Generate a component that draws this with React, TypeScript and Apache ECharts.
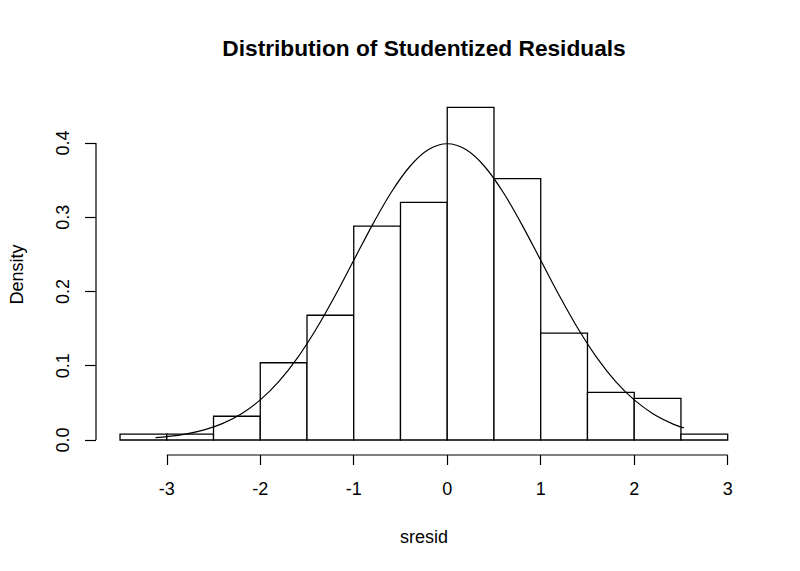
import React, { useEffect, useRef } from "react";
import * as echarts from "echarts";

// Histogram bins (break edges) and densities
const binStarts = [-3.5, -3.0, -2.5, -2.0, -1.5, -1.0, -0.5, 0.0, 0.5, 1.0, 1.5, 2.0, 2.5];
const binEnds = [-3.0, -2.5, -2.0, -1.5, -1.0, -0.5, 0.0, 0.5, 1.0, 1.5, 2.0, 2.5, 3.0];
const densities = [0.008, 0.008, 0.032, 0.104, 0.168, 0.288, 0.32, 0.448, 0.352, 0.144, 0.064, 0.056, 0.008];

// Normal curve points
const curveX = [-3.12, -3.0, -2.8, -2.6, -2.4, -2.2, -2.0, -1.8, -1.6, -1.4, -1.2, -1.0, -0.8, -0.6, -0.4, -0.2, 0.0, 0.2, 0.4, 0.6, 0.8, 1.0, 1.2, 1.4, 1.6, 1.8, 2.0, 2.2, 2.4, 2.53];
const curveY = [0.00307, 0.00443, 0.00792, 0.01358, 0.02239, 0.03547, 0.05399, 0.07895, 0.11092, 0.14973, 0.19419, 0.24197, 0.28969, 0.33322, 0.36827, 0.39104, 0.39894, 0.39104, 0.36827, 0.33322, 0.28969, 0.24197, 0.19419, 0.14973, 0.11092, 0.07895, 0.05399, 0.03547, 0.02239, 0.01625];

const xTicks = [-3, -2, -1, 0, 1, 2, 3];
const yTicks = [0, 0.1, 0.2, 0.3, 0.4];

const X_MIN = -3.757;
const X_MAX = 3.26;
const Y_MIN = -0.0202;
const Y_MAX = 0.4659;

const FONT = "Liberation Sans, Arial, sans-serif";

export default function App() {
  const ref = useRef<HTMLDivElement>(null);
  useEffect(() => {
    if (!ref.current) return;
    const chart = echarts.init(ref.current, null, { renderer: "svg" });
    const barData = binStarts.map((s, i) => [s, binEnds[i], densities[i]]);
    chart.setOption({
      animation: false,
      backgroundColor: "#ffffff",
      title: {
        text: "Distribution of Studentized Residuals",
        left: 419,
        top: 31.5,
        textAlign: "center",
        textStyle: { fontFamily: FONT, fontSize: 22.7, fontWeight: "bold", color: "#000" },
      },
      grid: { left: 93, right: 48, top: 94, bottom: 116 },
      xAxis: {
        type: "value",
        min: X_MIN,
        max: X_MAX,
        name: "sresid",
        nameLocation: "middle",
        nameGap: 73,
        nameTextStyle: { fontFamily: FONT, fontSize: 18, color: "#000" },
        axisLine: { show: false, onZero: false },
        splitLine: { show: false },
        axisTick: {
          show: true,
          customValues: xTicks,
          length: 10,
          lineStyle: { color: "#000", width: 1.2 },
        },
        axisLabel: {
          customValues: xTicks,
          margin: 25,
          fontFamily: FONT,
          fontSize: 18,
          color: "#000",
          formatter: (v: number) => String(v),
        },
      },
      yAxis: {
        type: "value",
        min: Y_MIN,
        max: Y_MAX,
        name: "Density",
        nameLocation: "middle",
        nameRotate: 90,
        nameGap: 70,
        nameTextStyle: { fontFamily: FONT, fontSize: 18, color: "#000" },
        axisLine: { show: false, onZero: false },
        splitLine: { show: false },
        axisTick: {
          show: true,
          customValues: yTicks,
          length: 11,
          lineStyle: { color: "#000", width: 1.2 },
        },
        axisLabel: {
          customValues: yTicks,
          rotate: 90,
          margin: 24,
          fontFamily: FONT,
          fontSize: 18,
          color: "#000",
          formatter: (v: number) => v.toFixed(1),
        },
      },
      series: [
        {
          type: "custom",
          data: barData,
          clip: false,
          renderItem: (params: any, api: any) => {
            const p0 = api.coord([api.value(0), api.value(2)]);
            const p1 = api.coord([api.value(1), 0]);
            return {
              type: "rect",
              shape: { x: p0[0], y: p0[1], width: p1[0] - p0[0], height: p1[1] - p0[1] },
              style: { fill: "#fff", stroke: "#000", lineWidth: 1.3 },
            };
          },
        },
        {
          type: "line",
          data: curveX.map((x, i) => [x, curveY[i]]),
          smooth: 0.3,
          showSymbol: false,
          symbol: "none",
          lineStyle: { color: "#000", width: 1.2 },
          z: 5,
        },
        {
          type: "line",
          data: [[xTicks[0], Y_MIN], [xTicks[xTicks.length - 1], Y_MIN]],
          showSymbol: false,
          symbol: "none",
          clip: false,
          lineStyle: { color: "#000", width: 1.2 },
        },
        {
          type: "line",
          data: [[X_MIN, yTicks[0]], [X_MIN, yTicks[yTicks.length - 1]]],
          showSymbol: false,
          symbol: "none",
          clip: false,
          lineStyle: { color: "#000", width: 1.2 },
        },
      ],
    });
    return () => chart.dispose();
  }, []);
  return (
    <div
      ref={ref}
      style={{ position: "fixed", left: 0, top: 0, width: 800, height: 571, background: "#fff" }}
    />
  );
}
